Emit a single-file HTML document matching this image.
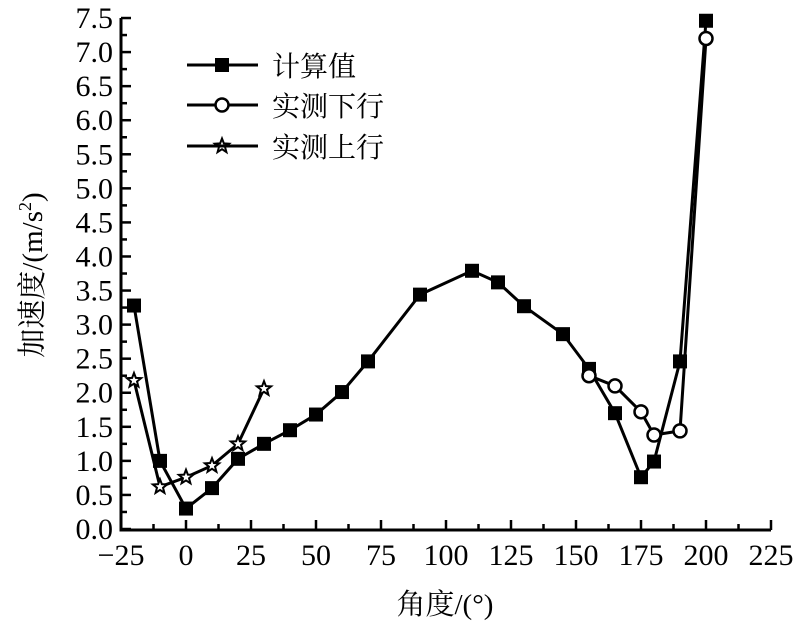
<!DOCTYPE html><html><head><meta charset="utf-8"><style>body{margin:0;background:#fff}svg text{font-family:"Liberation Serif","Noto Serif CJK SC",serif}</style></head><body>
<svg width="809" height="636" xmlns="http://www.w3.org/2000/svg">
<g id="ax" stroke="#000" stroke-width="3" fill="none">
<path d="M121,18 V530 H771"/>
</g>
<g stroke="#000" stroke-width="2.5" id="ticks"></g>
<g font-size="30" id="labels"></g>
<g id="series"></g>
<g stroke="#000" stroke-width="3">
<line x1="187" y1="65" x2="258" y2="65"/><line x1="187" y1="105" x2="258" y2="105"/><line x1="187" y1="146" x2="258" y2="146"/>
</g>
<rect x="215" y="58" width="14" height="14" fill="#000"/>
<circle cx="222" cy="105" r="6.5" fill="#fff" stroke="#000" stroke-width="2.5"/>
<g font-size="28">
<text x="272" y="76">计算值</text><text x="272" y="116">实测下行</text><text x="272" y="157">实测上行</text>
</g>
<text x="445" y="614" font-size="29" text-anchor="middle">角度/(°)</text>
<text transform="translate(42,275) rotate(-90)" font-size="29" text-anchor="middle">加速度/(m/s<tspan dy="-11" font-size="18">2</tspan><tspan dy="11">)</tspan></text>
<script>
const X=v=>186+2.6*v,Y=v=>529-68.13*v,ns="http://www.w3.org/2000/svg";
function el(p,t,a,txt){const e=document.createElementNS(ns,t);for(const k in a)e.setAttribute(k,a[k]);if(txt!=null)e.textContent=txt;document.getElementById(p).appendChild(e);return e;}
for(let v=-25;v<=225;v+=12.5){const x=X(v),L=(v%25==0)?10:6;el('ticks','line',{x1:x,y1:530,x2:x,y2:530-L});if(v%25==0)el('labels','text',{x:x,y:565,'text-anchor':'middle'},v<0?'−25':String(v));}
for(let i=0;i<=30;i++){const v=i*0.25,y=Y(v),L=(i%2==0)?10:6;el('ticks','line',{x1:121,y1:y,x2:121+L,y2:y});if(i%2==0)el('labels','text',{x:113,y:y+10,'text-anchor':'end'},v.toFixed(1));}
const c=[[-20,3.28],[-10,1.0],[0,0.3],[10,0.6],[20,1.03],[30,1.25],[40,1.45],[50,1.68],[60,2.01],[70,2.46],[90,3.44],[110,3.79],[120,3.62],[130,3.27],[145,2.86],[155,2.35],[165,1.7],[175,0.76],[180,0.99],[190,2.46],[200,7.46]];
const d=[[155,2.25],[165,2.1],[175,1.72],[180,1.38],[190,1.44],[200,7.2]];
const u=[[-20,2.18],[-10,0.62],[0,0.76],[10,0.93],[20,1.25],[30,2.06]];
function line(a){el('series','polyline',{points:a.map(p=>X(p[0])+','+Y(p[1])).join(' '),fill:'none',stroke:'#000','stroke-width':3});}
line(c);line(d);line(u);
c.forEach(p=>el('series','rect',{x:X(p[0])-7,y:Y(p[1])-7,width:14,height:14,fill:'#000'}));
d.forEach(p=>el('series','circle',{cx:X(p[0]),cy:Y(p[1]),r:6.5,fill:'#fff',stroke:'#000','stroke-width':2.5}));
function star(cx,cy,p){let s='';for(let i=0;i<10;i++){const r=i%2?3.2:7.5,a=-Math.PI/2+i*Math.PI/5;s+=(cx+r*Math.cos(a))+','+(cy+r*Math.sin(a))+' ';}el(p,'polygon',{points:s,fill:'#fff',stroke:'#000','stroke-width':2});}
u.forEach(p=>star(X(p[0]),Y(p[1]),'series'));
star(222,146,'series');
</script>
</svg></body></html>
